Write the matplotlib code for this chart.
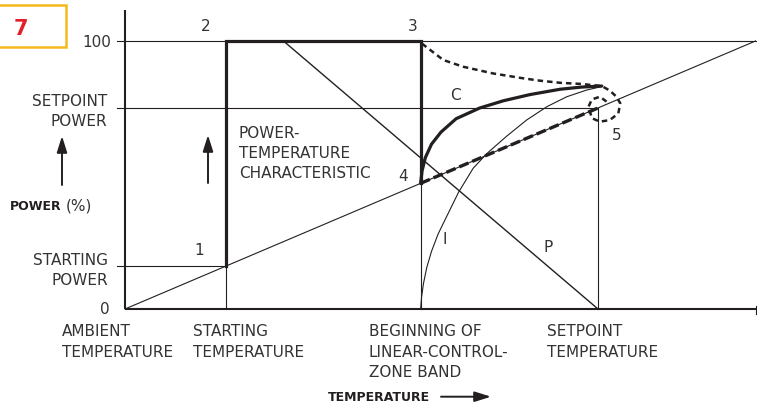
import matplotlib
matplotlib.use('Agg')
import matplotlib.pyplot as plt
from matplotlib.patches import Rectangle

# ---- values (temperature: ambient=0, setpoint=100; power in %)
start_temp = 21.3
band_temp = 62.5
setpoint_temp = 100.0
temp_end = 133.3
start_power = 16.0
setpoint_power = 75.0
full_power = 100.0
axis_top = 111.6

# power-temperature characteristic 1-2-3-4
char_T = [start_temp, start_temp, band_temp, band_temp]
char_P = [start_power, full_power, full_power, 46.9]

# straight load line through 1, 4, 5
diag_T = [0.0, temp_end]
diag_P = [0.0, 100.0]

# P line
p_T = [33.5, 100.0]
p_P = [100.0, 0.0]

# 4 -> 5 dashed segment
seg_T = [band_temp, setpoint_temp]
seg_P = [46.9, setpoint_power]

# C curve
c_T = [62.5, 62.8, 63.5, 64.8, 66.8, 70.0, 75.0, 80.0, 85.6, 92.0, 96.5, 100.8]
c_P = [46.9, 51.5, 56.5, 61.5, 66.0, 71.0, 75.0, 77.7, 80.0, 82.0, 82.8, 83.2]

# I curve
i_T = [62.5, 62.7, 63.1, 63.8, 64.8, 66.2, 68.0, 70.5, 73.6, 76.5, 80.7, 84.9,
       89.2, 93.4, 97.6, 100.8]
i_P = [0.0, 4.5, 9.5, 15.5, 21.5, 28.0, 34.5, 43.5, 52.5, 58.0, 64.5, 70.5,
       75.5, 79.2, 81.7, 83.0]

# dotted overshoot path from 3 with loop around 5
top_T = [62.8, 67.3, 71.5, 77.8, 84.1, 87.7, 92.0, 96.2, 100.8, 102.5, 103.9,
         104.7, 104.3, 102.5, 100.4, 98.7, 98.0, 98.7, 100.4, 101.8]
top_P = [99.0, 92.9, 90.4, 87.9, 86.1, 85.2, 84.4, 84.0, 83.2, 81.5, 79.2,
         76.8, 73.0, 70.5, 69.9, 71.2, 75.5, 78.2, 79.2, 77.4]

# ---- pixel helpers (diagram origin at px 125,309)
XS = 4.73
YS = 2.68


def px(x, y):
    return (x - 125) / XS, (309 - y) / YS


ink = '#231f20'
txt = '#333333'
fs = 11

fig = plt.figure(figsize=(7.57, 4.11), dpi=100)
ax = fig.add_axes([0, 0, 1, 1])
ax.set_xlim(-125 / XS, (757 - 125) / XS)
ax.set_ylim((309 - 411) / YS, 309 / YS)
ax.axis('off')

thin = 0.8
tick_l = -1.7

# reference lines
ax.plot([tick_l, temp_end], [full_power, full_power], color=ink, lw=thin)
ax.plot([tick_l, setpoint_temp], [setpoint_power, setpoint_power], color=ink, lw=thin)
ax.plot([tick_l, start_temp], [start_power, start_power], color=ink, lw=thin)
ax.plot([start_temp, start_temp], [0, start_power], color=ink, lw=thin)
ax.plot([band_temp, band_temp], [0, 46.9], color=ink, lw=thin)
ax.plot([setpoint_temp, setpoint_temp], [0, setpoint_power], color=ink, lw=thin)
ax.plot(diag_T, diag_P, color=ink, lw=thin)
ax.plot(p_T, p_P, color=ink, lw=1.0)
ax.plot(i_T, i_P, color=ink, lw=thin)

# axes
ax.plot([0, 0], [0, axis_top], color=ink, lw=1.5, solid_capstyle='butt')
ax.plot([0, temp_end], [0, 0], color=ink, lw=1.5, solid_capstyle='butt')
ax.plot([temp_end, temp_end], [1.2, -1.8], color=ink, lw=0.8)

# heavy curves
ax.plot(char_T, char_P, color=ink, lw=2.3, solid_joinstyle='miter')
ax.plot(c_T, c_P, color=ink, lw=2.3, solid_capstyle='round')
ax.plot(seg_T, seg_P, color=ink, lw=2.4, dashes=(3.0, 1.2))
ax.plot(top_T, top_P, color=ink, lw=1.8, dashes=(2.2, 1.6))

# badge
ax.add_patch(Rectangle(px(-3, 47), 69 / XS, 42 / YS, fill=False,
                       edgecolor='#f6b91d', lw=1.8))
ax.text(*px(21, 29), '7', color='#e3202a', fontsize=15, fontweight='bold',
        ha='center', va='center')


def label(lines, x, y, ha='left', dy=20.3, **kw):
    for k, s in enumerate(lines):
        ax.text(*px(x, y + k * dy + 5.5), s, ha=ha, va='baseline',
                fontsize=fs, color=txt, **kw)


# y labels
label(['100'], 111, 41.7, ha='right')
label(['SETPOINT', 'POWER'], 107, 100, ha='right')
label(['STARTING', 'POWER'], 108, 259.3, ha='right')
label(['0'], 110, 308, ha='right')

# x labels
label(['AMBIENT', 'TEMPERATURE'], 62, 331)
label(['STARTING', 'TEMPERATURE'], 193, 331)
label(['BEGINNING OF', 'LINEAR-CONTROL-', 'ZONE BAND'], 369, 331)
label(['SETPOINT', 'TEMPERATURE'], 547, 331)

# point labels
label(['1'], 199, 249, ha='center')
label(['2'], 206, 25.7, ha='center')
label(['3'], 413, 25.7, ha='center')
label(['4'], 403, 175, ha='center')
label(['5'], 617, 134, ha='center')
label(['C'], 455, 95, ha='center')
label(['I'], 445, 238, ha='center')
label(['P'], 548, 247, ha='center')
label(['POWER-', 'TEMPERATURE', 'CHARACTERISTIC'], 239, 132)

# axis titles
ax.text(*px(10, 206 + 4.5), 'POWER', fontsize=9, fontweight='bold',
        color=ink, ha='left', va='baseline')
ax.text(*px(66, 206 + 4.5), '(%)', fontsize=11, color=txt, ha='left',
        va='baseline')
ax.text(*px(328, 396.7 + 4.5), 'TEMPERATURE', fontsize=9, fontweight='bold',
        color=ink, ha='left', va='baseline')

arrow = dict(arrowstyle='-|>,head_length=0.7,head_width=0.22', color=ink,
             lw=1.4, mutation_scale=14, shrinkA=0, shrinkB=0)
ax.annotate('', xy=px(62, 136), xytext=px(62, 185), arrowprops=arrow)
ax.annotate('', xy=px(208, 135), xytext=px(208, 183), arrowprops=arrow)
ax.annotate('', xy=px(491, 396.7), xytext=px(441, 396.7), arrowprops=arrow)

fig.savefig('out.png', dpi=100)
